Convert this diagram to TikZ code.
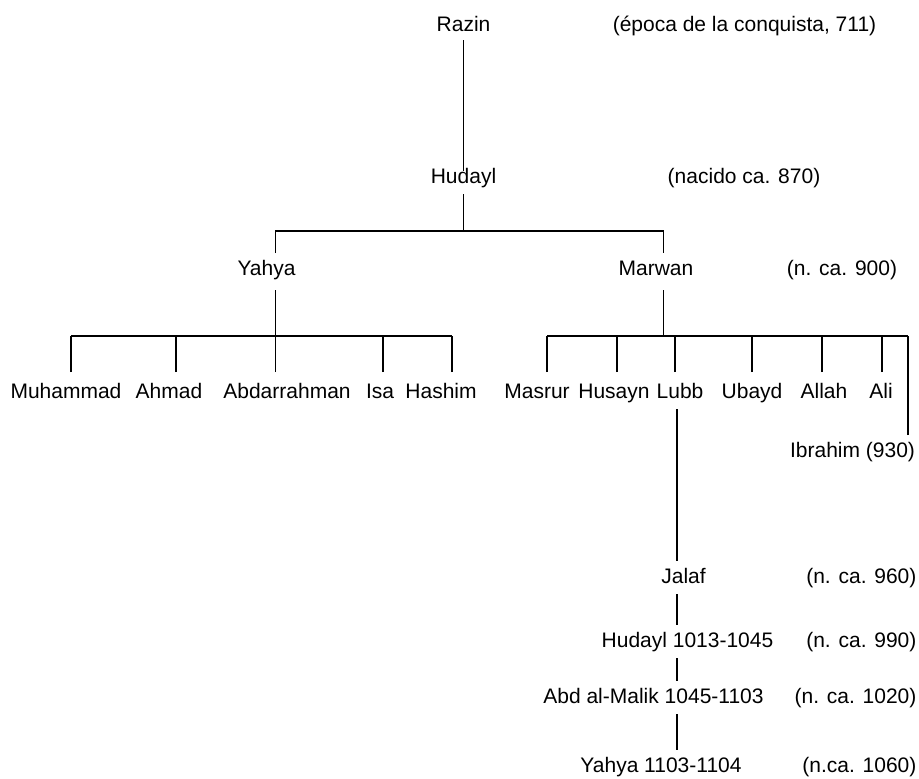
\documentclass[tikz,border=0pt]{standalone}
\usepackage{fontspec}
\setmainfont{Liberation Sans}
\usepackage{tikz}

\begin{document}
\begin{tikzpicture}[x=0.5pt, y=-0.5pt, line width=0.6pt]
        \tikzstyle{person} = [anchor=base, inner xsep=0pt, inner ysep=3pt, text height=7.6pt, text depth=2.2pt, font=\fontsize{10.5}{12}\selectfont]
        \tikzstyle{note} = [person]
        \useasboundingbox (0,0) rectangle (919,778);

        % generations
        \node (razin) [person] at (463.5,31) {Razin};
        \node (hudayl) [person] at (463.5,183) {Hudayl};
        \node (yahya) [person] at (266.5,275) {Yahya};
        \node (marwan) [person] at (656,275) {Marwan};

        \node (muhammad) [person] at (66,398) {Muhammad};
        \node (ahmad) [person] at (169,398) {Ahmad};
        \node (abdarrahman) [person] at (287,398) {Abdarrahman};
        \node (isa) [person] at (380,398) {Isa};
        \node (hashim) [person] at (441,398) {Hashim};

        \node (masrur) [person] at (537,398) {Masrur};
        \node (husayn) [person] at (614,398) {Husayn};
        \node (lubb) [person] at (680,398) {Lubb};
        \node (ubayd) [person] at (752,398) {Ubayd};
        \node (allah) [person] at (824,398) {Allah};
        \node (ali) [person] at (881,398) {Ali};
        \node (ibrahim) [person] at (852.5,457) {Ibrahim (930)};

        \node (jalaf) [person] at (683.5,583) {Jalaf};
        \node (hudaylb) [person] at (687.5,647) {Hudayl 1013-1045};
        \node (abdalmalik) [person] at (653.5,703) {Abd al-Malik 1045-1103};
        \node (yahyab) [person] at (661,772) {Yahya 1103-1104};

        % dates
        \node (nrazin) [note] at (744.5,31) {(época de la conquista, 711)};
        \node (nhudayl) [note] at (744,183) {(nacido ca. 870)};
        \node (nmarwan) [note] at (842,275) {(n. ca. 900)};
        \node (njalaf) [note, anchor=base east] at (917,583) {(n. ca. 960)};
        \node (nhudaylb) [note, anchor=base east] at (917,647) {(n. ca. 990)};
        \node (nabdalmalik) [note, anchor=base east] at (917,703) {(n. ca. 1020)};
        \node (nyahyab) [note, anchor=base east] at (917,772) {(n.ca. 1060)};

        % lines
        \coordinate (hbar) at (463.5,231);
        \coordinate (ybar) at (275.5,336);
        \coordinate (mbar) at (663.5,336);
        \coordinate (lubbline) at (677,0);

        \draw [shorten <=-1pt, shorten >=-5pt] (razin) -- (hudayl);
        \draw (hudayl) -- (hbar);
        \draw (yahya.north -| ybar) |- (hbar) -| (marwan.north -| mbar);

        \draw [shorten <=2pt] (yahya.south -| ybar) -- (ybar);
        \foreach \n/\d in {muhammad/71, ahmad/176, abdarrahman/275.5, isa/383, hashim/452}
            \draw [shorten <=2pt] (\n.north -| \d,0) -- (ybar -| \d,0);
        \draw (ybar -| 71,0) -- (ybar -| 452,0);

        \draw [shorten <=2pt] (marwan.south -| mbar) -- (mbar);
        \foreach \n/\d in {masrur/547, husayn/617, lubb/675, ubayd/752, allah/822, ali/882}
            \draw [shorten <=2pt] (\n.north -| \d,0) -- (mbar -| \d,0);
        \draw (ibrahim.north -| 908,0) -- (mbar -| 908,0);
        \draw (mbar -| 547,0) -- (mbar -| 908,0);

        \draw (lubb.south -| lubbline) -- (jalaf.north -| lubbline);
        \draw (jalaf.south -| lubbline) -- (hudaylb.north -| lubbline);
        \draw (hudaylb.south -| lubbline) -- (abdalmalik.north -| lubbline);
        \draw (abdalmalik.south -| lubbline) -- (yahyab.north -| lubbline);
\end{tikzpicture}
\end{document}
